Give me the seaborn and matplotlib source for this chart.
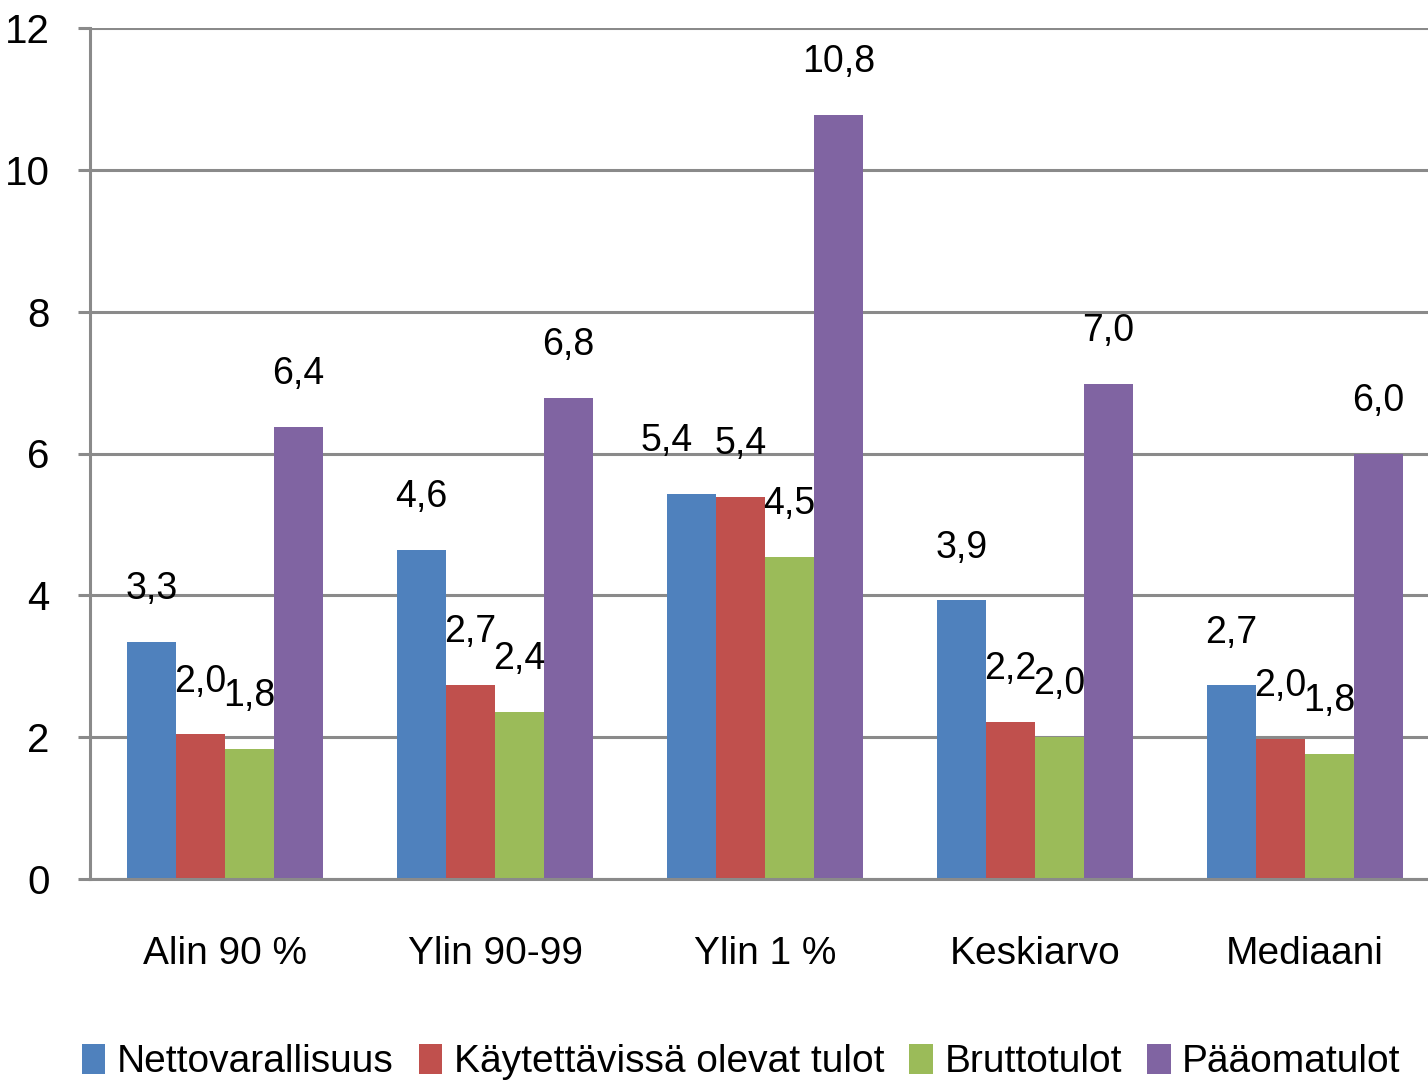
import matplotlib
matplotlib.use("Agg")
import matplotlib.pyplot as plt
from matplotlib.patches import Patch
from matplotlib.ticker import MultipleLocator
import pandas as pd
import seaborn as sns

# data
ryhmat = ["Alin 90 %", "Ylin 90-99", "Ylin 1 %", "Keskiarvo", "Mediaani"]
sarjat = ["Nettovarallisuus", "Käytettävissä olevat tulot", "Bruttotulot", "Pääomatulot"]
nettovarallisuus = [3.34, 4.64, 5.43, 3.93, 2.73]
kaytettavissa = [2.04, 2.74, 5.39, 2.22, 1.98]
bruttotulot = [1.84, 2.36, 4.54, 2.00, 1.76]
paaomatulot = [6.38, 6.78, 10.77, 6.98, 6.00]
varit = ["#4F81BD", "#C0504D", "#9BBB59", "#8064A2"]

arvot = [nettovarallisuus, kaytettavissa, bruttotulot, paaomatulot]
rivit = []
for s, vals in zip(sarjat, arvot):
    for r, v in zip(ryhmat, vals):
        rivit.append({"Ryhmä": r, "Sarja": s, "Arvo": v})
df = pd.DataFrame(rivit)

sns.set_theme(style="white")
plt.rcParams["font.family"] = ["Liberation Sans", "DejaVu Sans"]
fs = 28
harmaa = "#8A8A8A"

fig = plt.figure(figsize=(14.28, 10.88), dpi=100)
ax = fig.add_axes([90 / 1428, 209 / 1088, 1350 / 1428, 851 / 1088])

sns.barplot(data=df, x="Ryhmä", y="Arvo", hue="Sarja", order=ryhmat, hue_order=sarjat,
            palette=varit, width=0.727, gap=0, saturation=1, errorbar=None,
            linewidth=0, legend=False, ax=ax)

# arvot palkkien yläpuolelle (yksi nimiö siirretty vasemmalle kuten alkuperäisessä)
for i, cont in enumerate(ax.containers):
    for j, bar in enumerate(cont):
        h = bar.get_height()
        dx = -18 if (i == 0 and j == 2) else 0
        ax.annotate(f"{h:.1f}".replace(".", ","), (bar.get_x() + bar.get_width() / 2, h),
                    xytext=(dx, 38), textcoords="offset points", ha="center", va="center",
                    fontsize=27, color="black")

ax.set_ylim(0, 12)
ax.set_xlim(-0.5, 4.5)
ax.yaxis.set_major_locator(MultipleLocator(2))
ax.grid(axis="y", color=harmaa, linewidth=2.2)
ax.set_axisbelow(True)
for side in ["top", "right"]:
    ax.spines[side].set_visible(False)
for side in ["left", "bottom"]:
    ax.spines[side].set_color(harmaa)
    ax.spines[side].set_linewidth(2.2)

ax.set_xticks([-0.5, 0.5, 1.5, 2.5, 3.5, 4.5], minor=True)
ax.tick_params(axis="x", which="minor", length=12, width=2.2, color=harmaa, direction="out")
ax.tick_params(axis="x", which="major", length=0, pad=41, labelsize=fs, labelcolor="black")
ax.tick_params(axis="y", which="major", length=9, width=2.2, color=harmaa, direction="out",
               left=True, pad=20, labelsize=29, labelcolor="black")
ax.set_xlabel("")
ax.set_ylabel("")

kahvat = [Patch(facecolor=c, edgecolor="none") for c in varit]
leg = fig.legend(kahvat, sarjat, loc="center", bbox_to_anchor=(0.519, 26 / 1088), ncol=4,
                 frameon=False, fontsize=fs, handlelength=0.6, handleheight=0.8,
                 handletextpad=0.3, columnspacing=0.65, borderaxespad=0)
for t in leg.get_texts():
    t.set_color("black")

fig.savefig("out.png", dpi=100)
